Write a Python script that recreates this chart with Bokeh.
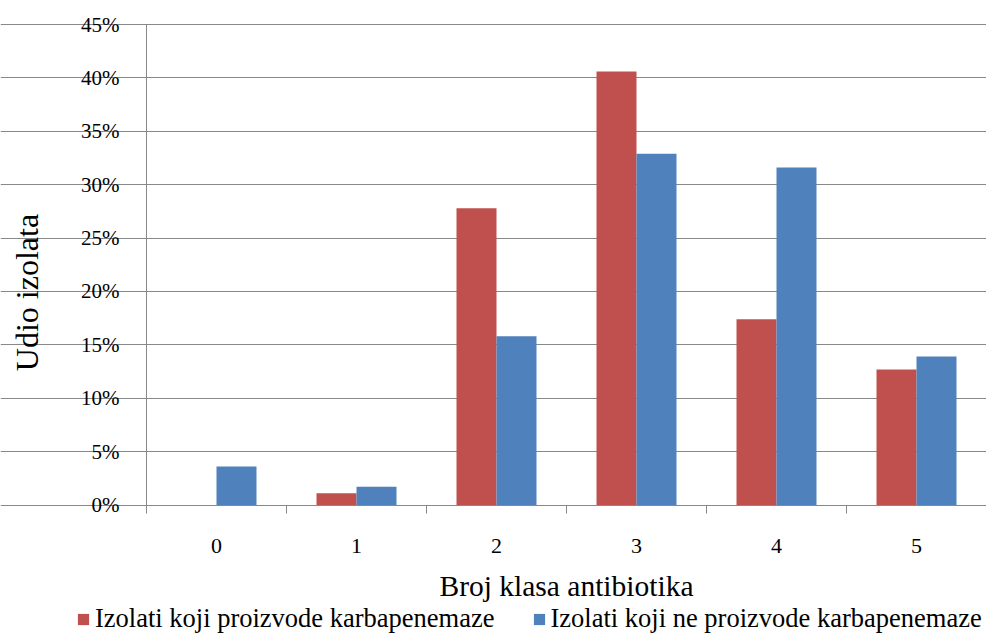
import math
from bokeh.plotting import figure
from bokeh.models import (ColumnDataSource, FixedTicker, PrintfTickFormatter, Legend,
                          LegendItem, Label, Range1d)
from bokeh.transform import dodge
from bokeh.embed import file_html
from bokeh.resources import INLINE

categories = [0, 1, 2, 3, 4, 5]
tick_labels = ["0", "1", "2", "3", "4", "5"]
karbapenemaze = [0.0, 1.1, 27.8, 40.6, 17.4, 12.7]
ne_karbapenemaze = [3.6, 1.7, 15.8, 32.9, 31.6, 13.9]
y_ticks = [0, 5, 10, 15, 20, 25, 30, 35, 40, 45]
series_names = ["Izolati koji proizvode karbapenemaze", "Izolati koji ne proizvode karbapenemaze"]
x_title = "Broj klasa antibiotika"
y_title = "Udio izolata"

RED = "#C0504D"
BLUE = "#4F81BD"
GRAY = "#888888"
FONT = "Liberation Serif"

W, H = 986, 634
PX_X = 140.0      # pixels per category
PX_Y = 480.5 / 45  # pixels per percent
LEFT, BOTTOM = 146, 129.5  # plot-area origin offsets inside the canvas

src = ColumnDataSource(dict(x=categories, a=karbapenemaze, b=ne_karbapenemaze))

x0, x1 = -0.5, 5.5
y0, y1 = 0, 45
p = figure(width=W, height=H, output_backend="svg", toolbar_location=None, min_border=0,
           x_range=Range1d(x0 - LEFT / PX_X, x1),
           y_range=Range1d(y0 - BOTTOM / PX_Y, y1 + 24 / PX_Y))
p.outline_line_color = None
p.background_fill_color = "white"

bw = 40 / PX_X
r1 = p.vbar(x=dodge("x", -bw / 2, range=p.x_range), top="a", width=bw, source=src,
            fill_color=RED, line_color=None)
r2 = p.vbar(x=dodge("x", bw / 2, range=p.x_range), top="b", width=bw, source=src,
            fill_color=BLUE, line_color=None)

# x axis
xa = p.xaxis[0]
xa.fixed_location = y0
xa.bounds = (x0, x1)
xa.ticker = FixedTicker(ticks=categories, minor_ticks=[c - 0.5 for c in categories] + [5.5])
xa.major_label_overrides = {c: t for c, t in zip(categories, tick_labels)}
xa.major_tick_out = 0
xa.major_tick_in = 0
xa.minor_tick_out = 8
xa.minor_tick_in = 0
xa.minor_tick_line_color = GRAY
xa.axis_line_color = GRAY
xa.major_label_text_font = FONT
xa.major_label_text_font_size = "22px"
xa.major_label_text_color = "black"
xa.major_label_standoff = 26
xa.axis_label = x_title
xa.axis_label_text_font = FONT
xa.axis_label_text_font_size = "29.5px"
xa.axis_label_text_font_style = "normal"
xa.axis_label_text_color = "black"
xa.axis_label_standoff = 13

# y axis
ya = p.yaxis[0]
ya.fixed_location = x0
ya.bounds = (y0, y1)
ya.ticker = FixedTicker(ticks=y_ticks)
ya.formatter = PrintfTickFormatter(format="%d%%")
ya.major_tick_out = 8
ya.major_tick_in = 0
ya.minor_tick_line_color = None
ya.major_tick_line_color = GRAY
ya.axis_line_color = GRAY
ya.major_label_text_font = FONT
ya.major_label_text_font_size = "21px"
ya.major_label_text_color = "black"
ya.major_label_standoff = 19

p.xgrid.grid_line_color = None
p.ygrid.grid_line_color = GRAY
p.ygrid.ticker = FixedTicker(ticks=y_ticks)
p.ygrid.bounds = (x0, x1)

ylab = Label(x=26, y=H - 292, x_units="screen", y_units="screen", text=y_title,
             angle=math.pi / 2, text_align="center", text_baseline="middle",
             text_font=FONT, text_font_size="32px", text_color="black")
p.add_layout(ylab)

legend = Legend(items=[LegendItem(label=series_names[0], renderers=[r1]),
                       LegendItem(label=series_names[1], renderers=[r2])],
                orientation="horizontal", location=(76, 0), padding=0, margin=0,
                spacing=37, label_standoff=5, glyph_width=14, glyph_height=14,
                label_text_font=FONT, label_text_font_size="26.5px", label_text_color="black",
                border_line_color=None, background_fill_alpha=0)
p.add_layout(legend, "center")

open("out.html", "w").write(file_html(p, INLINE))
